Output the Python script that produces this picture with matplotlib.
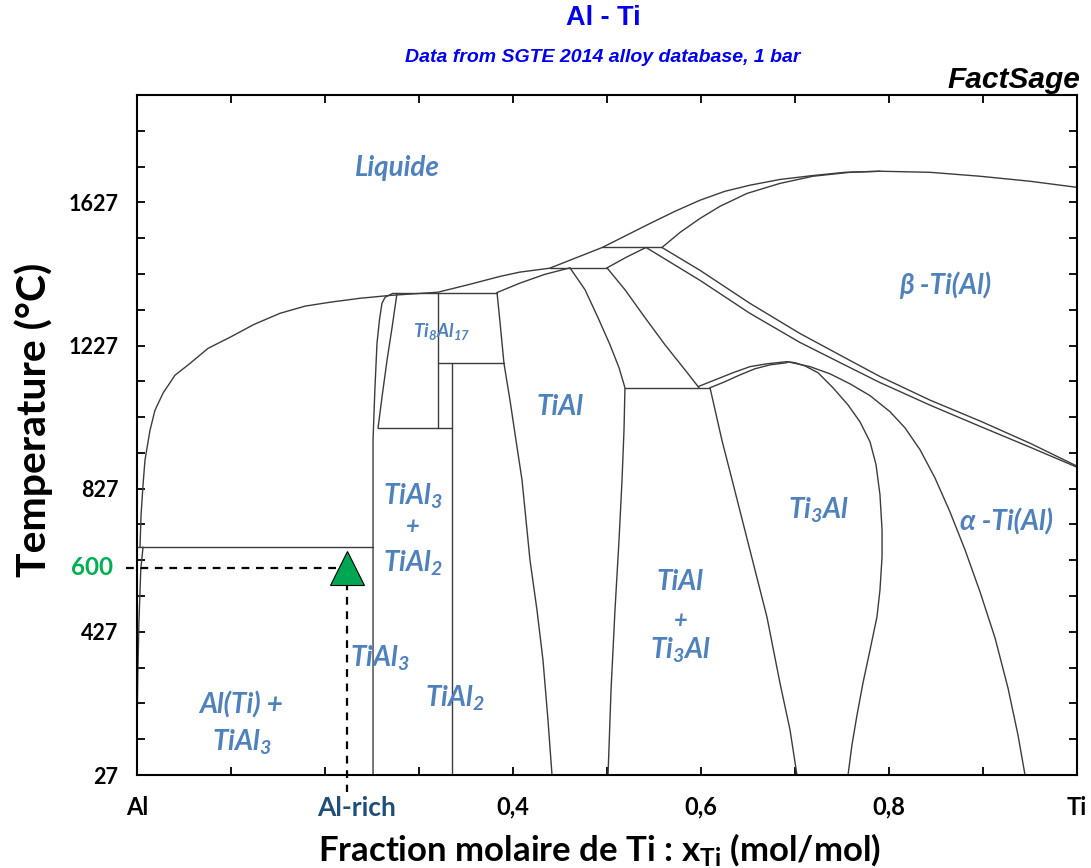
import matplotlib
matplotlib.use("Agg")
import matplotlib.pyplot as plt

# ---------------- data (x = mole fraction Ti, T in °C) ----------------
liquidus_x = [0.0032, 0.0043, 0.0064, 0.0085, 0.0138, 0.0191, 0.0277, 0.0404, 0.0564, 0.0755,
              0.0989, 0.1245, 0.1521, 0.1787, 0.2053, 0.2372, 0.2691, 0.3202,
              0.354, 0.386, 0.407, 0.439, 0.495, 0.5457, 0.5723, 0.5989, 0.6255, 0.6521,
              0.6840, 0.7191, 0.7532, 0.7904, 0.8436, 0.8968, 0.9500, 1.0]
liquidus_T = [664, 753, 837, 907, 990, 1046, 1094, 1144, 1177, 1219,
              1250, 1286, 1317, 1337, 1348, 1359, 1367, 1376,
              1398, 1420, 1432, 1443, 1501, 1568, 1602, 1633, 1658, 1675,
              1691, 1702, 1711, 1714, 1711, 1700, 1686, 1669]

beta_solidus_x = [0.5585, 0.5777, 0.5989, 0.6202, 0.6489, 0.6840, 0.7191, 0.7585, 0.7904]
beta_solidus_T = [1501, 1543, 1582, 1616, 1652, 1680, 1700, 1711, 1714]

al_solvus_x = [0.0064, 0.004, 0.002, 0.0008, 0.0]
al_solvus_T = [664, 600, 450, 300, 150]

peritectic_al_x = [0.0, 0.2511]
peritectic_al_T = [664, 664]

tial3_left_x = [0.2723, 0.2640, 0.2606, 0.2580, 0.2553, 0.2530, 0.2511, 0.2511]
tial3_left_T = [1373, 1362, 1345, 1300, 1233, 1100, 962, 27]

tial3_right_x = [0.2766, 0.2715, 0.266, 0.2610, 0.2564]
tial3_right_T = [1373, 1280, 1186, 1090, 996]

h996_x = [0.2564, 0.3351]
h996_T = [996, 996]

ti8al17_top_x = [0.2723, 0.383]
ti8al17_top_T = [1375, 1375]

ti8al17_left_x = [0.3202, 0.3202]
ti8al17_left_T = [1375, 996]

ti8al17_bottom_x = [0.3202, 0.3904]
ti8al17_bottom_T = [1177, 1177]

tial2_x = [0.3351, 0.3351]
tial2_T = [1177, 27]

tial_solidus_x = [0.383, 0.407, 0.434, 0.4606]
tial_solidus_T = [1375, 1401, 1426, 1444]

tial_left_x = [0.383, 0.386, 0.3904, 0.3968, 0.4032, 0.4096, 0.4181, 0.4255, 0.4319, 0.4372, 0.4415]
tial_left_T = [1375, 1297, 1177, 1074, 962, 851, 627, 488, 348, 181, 27]

tial_right_x = [0.4606, 0.4766, 0.4904, 0.5032, 0.5128, 0.5191, 0.5181, 0.5160, 0.5128, 0.5085,
                0.5043, 0.5011]
tial_right_T = [1444, 1383, 1305, 1229, 1165, 1109, 992, 852, 684, 488, 265, 27]

per1443_x = [0.439, 0.5]
per1443_T = [1444, 1444]

per1501_x = [0.4947, 0.5585]
per1501_T = [1501, 1501]

alpha_solidus_x = [0.5415, 0.52, 0.5]
alpha_solidus_T = [1501, 1473, 1444]

alpha_gamma_x = [0.5, 0.5191, 0.5404, 0.5617, 0.5830, 0.5979]
alpha_gamma_T = [1444, 1383, 1305, 1229, 1159, 1109]

eutectoid_x = [0.5191, 0.6096]
eutectoid_T = [1109, 1109]

a2_top_upper_x = [0.5968, 0.6149, 0.634, 0.6521, 0.6702, 0.6915]
a2_top_upper_T = [1112, 1131, 1151, 1168, 1176, 1182]
a2_top_lower_x = [0.6096, 0.6255, 0.6415, 0.6574, 0.6734, 0.6915]
a2_top_lower_T = [1109, 1126, 1145, 1162, 1173, 1179]

a2_left_x = [0.6096, 0.6223, 0.634, 0.6521, 0.6702, 0.684, 0.6947, 0.7021]
a2_left_T = [1109, 962, 842, 655, 468, 284, 153, 27]

a2_right_x = [0.6915, 0.7000, 0.7106, 0.7245, 0.7404, 0.7564, 0.7691, 0.7798, 0.7862, 0.7904,
              0.7926, 0.7926, 0.7904, 0.7872, 0.7798, 0.7723, 0.7660, 0.7606, 0.7564]
a2_right_T = [1182, 1179, 1170, 1151, 1109, 1061, 1014, 958, 894, 810,
              712, 636, 544, 469, 376, 284, 195, 111, 27]

alpha_a2_x = [0.6915, 0.7160, 0.7372, 0.7585, 0.7798, 0.8011, 0.8170, 0.8330, 0.8489, 0.8649,
              0.8809, 0.8968, 0.9128, 0.9266, 0.9372, 0.9447]
alpha_a2_T = [1182, 1168, 1148, 1120, 1087, 1042, 997, 936, 857, 762,
              656, 539, 410, 270, 139, 27]

beta_transus_x = [0.5585, 0.599, 0.652, 0.705, 0.758, 0.790, 0.844, 0.897, 0.950, 1.0]
beta_transus_T = [1501, 1437, 1345, 1261, 1186, 1141, 1074, 1016, 954, 890]

alpha_transus_x = [0.5415, 0.599, 0.652, 0.705, 0.758, 0.790, 0.844, 0.897, 0.950, 1.0]
alpha_transus_T = [1501, 1409, 1317, 1236, 1166, 1124, 1060, 1001, 943, 887]

boundaries = [
    (liquidus_x, liquidus_T), (beta_solidus_x, beta_solidus_T), (al_solvus_x, al_solvus_T),
    (peritectic_al_x, peritectic_al_T), (tial3_left_x, tial3_left_T), (tial3_right_x, tial3_right_T),
    (h996_x, h996_T), (ti8al17_top_x, ti8al17_top_T), (ti8al17_left_x, ti8al17_left_T),
    (ti8al17_bottom_x, ti8al17_bottom_T), (tial2_x, tial2_T), (tial_solidus_x, tial_solidus_T),
    (tial_left_x, tial_left_T), (tial_right_x, tial_right_T), (per1443_x, per1443_T),
    (per1501_x, per1501_T), (alpha_solidus_x, alpha_solidus_T), (alpha_gamma_x, alpha_gamma_T),
    (eutectoid_x, eutectoid_T), (a2_top_upper_x, a2_top_upper_T), (a2_top_lower_x, a2_top_lower_T),
    (a2_left_x, a2_left_T), (a2_right_x, a2_right_T), (alpha_a2_x, alpha_a2_T),
    (beta_transus_x, beta_transus_T), (alpha_transus_x, alpha_transus_T),
]

# point of interest (Al-rich alloy at 600 °C)
point_x = 0.2234
point_T = 606
point_label = "600"

xtick_pos = [0.0, 0.1, 0.2, 0.3, 0.4, 0.5, 0.6, 0.7, 0.8, 0.9, 1.0]
xtick_lab = ["Al", "", "", "", "0,4", "", "0,6", "", "0,8", "", "Ti"]
ytick_pos = [27, 127, 227, 327, 427, 527, 627, 727, 827, 927, 1027, 1127, 1227, 1327, 1427, 1527,
             1627, 1727, 1827]
ytick_lab = ["27", "", "", "", "427", "", "", "", "827", "", "", "", "1227", "", "", "", "1627", "", ""]

region_labels = [
    ("Liquide", 0.2766, 1722, 20),
    ("Ti$_{8}$Al$_{17}$", 0.3245, 1265, 13.5),
    ("TiAl", 0.45, 1055, 20),
    ("Ti$_{3}$Al", 0.7245, 767, 20),
    ("TiAl$_{3}$", 0.2936, 805, 20),
    ("+", 0.2936, 722, 17),
    ("TiAl$_{2}$", 0.2936, 620, 20),
    ("TiAl", 0.578, 566, 20),
    ("+", 0.578, 460, 17),
    ("Ti$_{3}$Al", 0.578, 376, 20),
    ("TiAl$_{3}$", 0.2585, 354, 20),
    ("TiAl$_{2}$", 0.3383, 242, 20),
    ("Al(Ti) +", 0.111, 222, 20),
    ("TiAl$_{3}$", 0.111, 119, 20),
]
greek_labels = [
    ("β -Ti(Al)", 0.8596, 1395, 20),
    ("α -Ti(Al)", 0.9255, 733, 20),
]

# ---------------- plotting ----------------
plt.rcParams['mathtext.fontset'] = 'custom'
plt.rcParams['mathtext.rm'] = 'Lato:bold:italic'
plt.rcParams['mathtext.it'] = 'Lato:bold:italic'
plt.rcParams['mathtext.bf'] = 'Lato:bold'

W, H = 1091, 868
fig = plt.figure(figsize=(W / 100, H / 100), dpi=100)
ax = fig.add_axes([137 / W, 1 - 775 / H, 940 / W, 680 / H])
ax.set_xlim(0, 1)
ax.set_ylim(27, 1927)

line_color = "#3c3c3c"
for bx, bT in boundaries:
    ax.plot(bx, bT, color=line_color, lw=1.0, solid_joinstyle="round", solid_capstyle="round")

# dashed guides and marker
ax.plot([-0.012, point_x], [point_T, point_T], ls=(0, (3.5, 3)), color="black", lw=1.6, clip_on=False)
ax.plot([point_x, point_x], [point_T, -20], ls=(0, (3.5, 3)), color="black", lw=1.6, clip_on=False)
ax.plot([point_x], [point_T], marker="^", ms=25, color="#00A651", mec="black", mew=0.8, zorder=5)

label_color = "#4F81BD"
for txt, x, T, fs in region_labels:
    ax.text(x, T, txt, ha="center", va="center", fontsize=fs, color=label_color,
            family="Lato", fontweight="bold", fontstyle="italic")
for txt, x, T, fs in greek_labels:
    ax.text(x, T, txt, ha="center", va="center", fontsize=fs, color=label_color,
            family=["Lato", "DejaVu Sans"], fontweight="bold", fontstyle="italic")

# ticks
ax.set_xticks(xtick_pos)
ax.set_xticklabels(xtick_lab, fontsize=17, fontweight="bold", family="Lato")
ax.set_yticks(ytick_pos)
ax.set_yticklabels(ytick_lab, fontsize=15.5, fontweight="bold", family="Lato")
ax.tick_params(direction="in", length=6, width=1.3, top=True, right=True)
ax.tick_params(axis="y", pad=13.5)
ax.tick_params(axis="x", pad=15)
for s in ax.spines.values():
    s.set_linewidth(1.5)

ax.text((357 - 137) / 940, -(808 - 775) / 680, "Al-rich", transform=ax.transAxes, ha="center",
        va="center", fontsize=19, fontweight="bold", family="Lato", color="#1F4E79")
ax.text(-(137 - 113) / 940, point_T, point_label, transform=ax.get_yaxis_transform(), ha="right",
        va="center", fontsize=17.5, fontweight="bold", family="Lato", color="#00B050")

fig.text(34 / W, 1 - 420 / H, "Temperature (°C)", rotation=90, ha="center", va="center",
         fontsize=29.5, fontweight="bold", family="Lato")
fig.text(600 / W, 1 - 850 / H, r"Fraction molaire de Ti : x$_{\mathbf{Ti}}$ (mol/mol)",
         ha="center", va="center", fontsize=25, fontweight="bold", family="Lato")

fig.text(603 / W, 1 - 18 / H, "Al - Ti", ha="center", va="center", fontsize=19.5,
         fontweight="bold", color="#0000EE", family=["Liberation Sans Narrow", "Liberation Sans"])
fig.text(603 / W, 1 - 57 / H, "Data from SGTE 2014 alloy database, 1 bar", ha="center", va="center",
         fontsize=14, fontweight="bold", fontstyle="italic", color="#0000EE",
         family=["Liberation Sans Narrow", "Liberation Sans"])
fig.text(1080 / W, 1 - 80 / H, "FactSage", ha="right", va="center", fontsize=21.5,
         fontweight="bold", fontstyle="italic", color="black",
         family=["Liberation Sans Narrow", "Liberation Sans"])

fig.savefig("out.png", dpi=100)
